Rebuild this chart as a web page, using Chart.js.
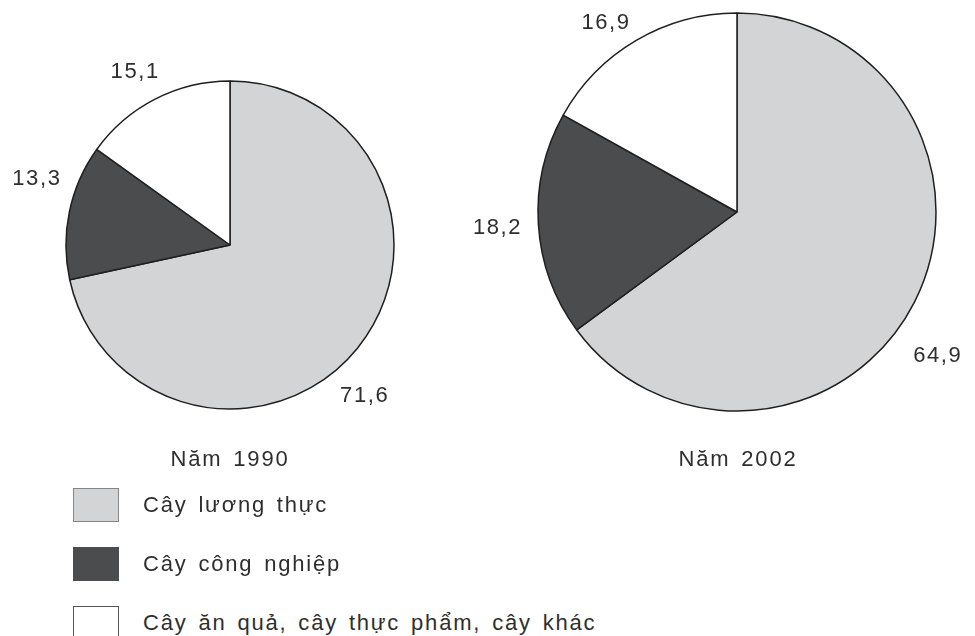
<!DOCTYPE html>
<html>
<head>
<meta charset="utf-8">
<script src="https://cdn.jsdelivr.net/npm/chart.js@4.4.0/dist/chart.umd.min.js"></script>
<style>
  html, body { margin: 0; padding: 0; background: #fff; }
  body { width: 975px; height: 636px; overflow: hidden; position: relative;
         font-family: "Liberation Sans", Arial, sans-serif; color: #2e2e2e; }
  .pie { position: absolute; }
  .title { position: absolute; font-size: 22px; letter-spacing: 1.8px; word-spacing: 3px; white-space: nowrap;
           transform: translate(-50%, -50%); }
  .legend-item { position: absolute; left: 73px; height: 34px; }
  .legend-item .box { position: absolute; left: 0; top: 0; width: 44px; height: 32px; border: 1px solid #777; }
  .legend-item .label { position: absolute; left: 70px; top: 50%; transform: translateY(-50%);
                        font-size: 22px; letter-spacing: 1.8px; word-spacing: 3px; white-space: nowrap; }
</style>
</head>
<body>
<div class="pie" style="left:0px; top:15px; width:460px; height:460px;"><canvas id="pie1990"></canvas></div>
<div class="pie" style="left:460px; top:-65px; width:554px; height:554px;"><canvas id="pie2002"></canvas></div>
<div class="title" id="title1990" style="left:230px; top:459px;"></div>
<div class="title" id="title2002" style="left:738px; top:459px;"></div>
<div id="legend"></div>

<script>
// Crop groups (legend order) and their share of cultivated area, %
const categories = ['Cây lương thực', 'Cây công nghiệp', 'Cây ăn quả, cây thực phẩm, cây khác'];
const years = ['Năm 1990', 'Năm 2002'];
const values1990 = [71.6, 13.3, 15.1];
const values2002 = [64.9, 18.2, 16.9];

// Styling
const sliceColors = ['#d3d4d5', '#4b4c4d', '#ffffff'];
const legendBorders = ['#858585', '#4b4c4d', '#555555'];
const outlineColor = '#1f1f1f';
const textColor = '#2e2e2e';

// Value labels sit outside each slice: angular nudge (deg) and gap beyond the rim (px)
const labelPlacement1990 = { turn: [9.3, 7.1, -1.6], gap: [38, 40, 33] };
const labelPlacement2002 = { turn: [8.8, -0.2, -4.3], gap: [48, 41, 31] };

const fmt = v => v.toFixed(1).replace('.', ',');

const sliceLabels = {
  id: 'sliceLabels',
  afterDatasetsDraw(chart, args, opts) {
    const ctx = chart.ctx;
    const meta = chart.getDatasetMeta(0);
    const data = chart.data.datasets[0].data;
    ctx.save();
    ctx.font = '22px "Liberation Sans", Arial, sans-serif';
    if ('letterSpacing' in ctx) ctx.letterSpacing = '1.6px';
    ctx.fillStyle = textColor;
    ctx.textAlign = 'center';
    ctx.textBaseline = 'middle';
    meta.data.forEach((arc, i) => {
      const mid = (arc.startAngle + arc.endAngle) / 2 + (opts.turn[i] || 0) * Math.PI / 180;
      const d = arc.outerRadius + (opts.gap[i] || 0);
      ctx.fillText(fmt(data[i]), arc.x + Math.cos(mid) * d, arc.y + Math.sin(mid) * d);
    });
    ctx.restore();
  }
};

function makePie(canvasId, values, radius, placement) {
  return new Chart(document.getElementById(canvasId), {
    type: 'pie',
    data: {
      labels: categories,
      datasets: [{
        data: values,
        backgroundColor: sliceColors,
        borderColor: outlineColor,
        borderWidth: 1.5,
        hoverOffset: 0
      }]
    },
    options: {
      responsive: true,
      maintainAspectRatio: false,
      animation: false,
      radius: radius,
      layout: { padding: 0 },
      events: [],
      plugins: {
        legend: { display: false },
        tooltip: { enabled: false },
        sliceLabels: placement
      }
    },
    plugins: [sliceLabels]
  });
}

makePie('pie1990', values1990, 164, labelPlacement1990);
makePie('pie2002', values2002, 199, labelPlacement2002);

document.getElementById('title1990').textContent = years[0];
document.getElementById('title2002').textContent = years[1];

// Legend
const legendTops = [488, 547, 606];
const legend = document.getElementById('legend');
categories.forEach((name, i) => {
  const item = document.createElement('div');
  item.className = 'legend-item';
  item.style.top = legendTops[i] + 'px';
  const box = document.createElement('div');
  box.className = 'box';
  box.style.background = sliceColors[i];
  box.style.borderColor = legendBorders[i];
  const label = document.createElement('div');
  label.className = 'label';
  label.textContent = name;
  item.appendChild(box);
  item.appendChild(label);
  legend.appendChild(item);
});
</script>
</body>
</html>
